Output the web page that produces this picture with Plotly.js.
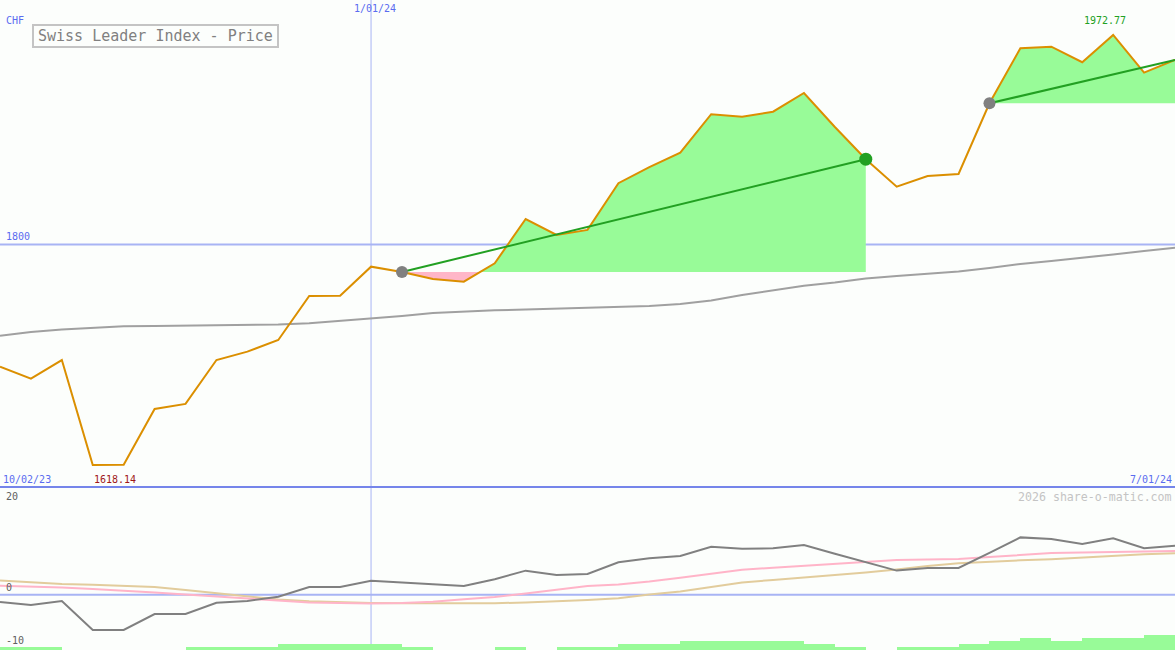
<!DOCTYPE html>
<html><head><meta charset="utf-8">
<script src="https://cdn.plot.ly/plotly-3.0.1.min.js"></script>
<style>html,body{margin:0;padding:0;background:#fcfefc}#chart{width:1175px;height:650px}</style>
</head><body><div id="chart"></div>
<script>
const dates = ['2023-10-09','2023-10-16','2023-10-23','2023-10-30','2023-11-06','2023-11-13','2023-11-20','2023-11-27',
  '2023-12-04','2023-12-11','2023-12-18','2023-12-25','2024-01-01','2024-01-08','2024-01-15','2024-01-22','2024-01-29',
  '2024-02-05','2024-02-12','2024-02-19','2024-02-26','2024-03-04','2024-03-11','2024-03-18','2024-03-25',
  '2024-04-01','2024-04-08','2024-04-15','2024-04-22','2024-04-29','2024-05-06','2024-05-13','2024-05-20','2024-05-27',
  '2024-06-03','2024-06-10','2024-06-17','2024-06-24','2024-07-01'];
const price = [1699.2,1689.3,1704.7,1618.14,1618.3,1664.3,1668.5,1704.7,1711.6,1721.2,1757.5,1757.7,1781.7,1777.3,
  1771.5,1769.3,1784.5,1821.0,1807.8,1812.0,1850.5,1863.7,1875.7,1907.4,1905.4,1909.5,1924.9,1896.9,1870.3,1847.7,
  1856.5,1858.1,1916.4,1961.8,1963.1,1950.3,1972.77,1941.7,1952.2];
const movingAvg = [1724.8,1727.8,1729.9,1731.5,1732.5,1732.8,1733.0,1733.2,1733.4,1734.0,1735.1,1736.9,1738.8,1741.0,
  1743.5,1744.7,1745.7,1746.4,1747.1,1747.9,1748.5,1749.3,1750.9,1753.8,1758.4,1762.5,1766.0,1768.7,1772.0,1774.0,
  1775.7,1777.7,1780.6,1783.9,1786.4,1788.9,1791.8,1794.6,1797.4];
const oscGray = [-1.36,-1.93,-1.18,-6.60,-6.60,-3.61,-3.61,-1.50,-1.18,-0.37,1.44,1.44,2.62,2.24,1.94,1.63,2.88,4.49,
  3.68,3.87,6.06,6.80,7.23,8.97,8.60,8.67,9.29,7.64,6.07,4.50,4.99,4.99,7.81,10.71,10.41,9.48,10.54,8.67,9.16];
const oscPink = [1.68,1.53,1.35,1.07,0.79,0.41,0.04,-0.34,-0.80,-1.18,-1.46,-1.55,-1.64,-1.55,-1.31,-0.86,-0.43,0.22,
  0.97,1.63,1.91,2.47,3.18,3.96,4.67,5.05,5.42,5.74,6.21,6.49,6.58,6.67,7.05,7.42,7.79,7.89,7.98,8.07,8.17];
const oscTan = [2.67,2.28,2.00,1.85,1.66,1.44,0.88,0.32,-0.34,-0.90,-1.23,-1.46,-1.55,-1.61,-1.61,-1.61,-1.59,-1.46,
  -1.27,-0.99,-0.67,0.04,0.60,1.44,2.28,2.75,3.21,3.59,4.15,4.71,5.36,5.87,6.17,6.43,6.62,6.95,7.33,7.55,7.74];
const barLevels = [1,1,0,0,0,0,1,1,1,2,2,2,2,1,0,0,1,0,1,1,2,2,3,3,3,3,2,1,0,1,1,2,3,4,3,4,4,5];
const trend1 = [13, 28];
const trend2 = [32, 38];
const minIdx = 3, maxIdx = 36;
const minLabel = '1618.14', maxLabel = '1972.77';
const titleText = 'Swiss Leader Index - Price';
const startLabel = '10/02/23', endLabel = '7/01/24', midLabel = '1/01/24', midDate = '2024-01-01';

const W = 1175, H = 650;
const px = x => x / W, py = y => 1 - y / H;
const FONT = 'DejaVu Sans Mono, Liberation Mono, monospace';
const BLUE = '#5a6cf0';

function toMs(d){ return new Date(d.replace(' ','T') + (d.length > 10 ? 'Z' : 'T00:00:00Z')).getTime(); }
function fromMs(ms){ return new Date(ms).toISOString().slice(0,19).replace('T',' '); }

function splitFill(s, e){
  const base = price[s];
  const up = {x:[], y:[]}, dn = {x:[], y:[]};
  for (let i = s; i <= e; i++){
    if (i > s){
      const p0 = price[i-1] - base, p1 = price[i] - base;
      if (p0 * p1 < 0){
        const t = p0 / (p0 - p1);
        const xm = fromMs(toMs(dates[i-1]) + t * (toMs(dates[i]) - toMs(dates[i-1])));
        up.x.push(xm); up.y.push(base); dn.x.push(xm); dn.y.push(base);
      }
    }
    up.x.push(dates[i]); up.y.push(Math.max(price[i], base));
    dn.x.push(dates[i]); dn.y.push(Math.min(price[i], base));
  }
  const close = o => ({x: o.x.concat([dates[e], dates[s]]), y: o.y.concat([base, base])});
  return {up: close(up), dn: close(dn)};
}

const traces = [];
[trend1, trend2].forEach(([s, e]) => {
  const f = splitFill(s, e);
  traces.push({x: f.dn.x, y: f.dn.y, mode:'lines', fill:'toself', fillcolor:'#ffb6c8', line:{width:0}, hoverinfo:'skip'});
  traces.push({x: f.up.x, y: f.up.y, mode:'lines', fill:'toself', fillcolor:'#98fb98', line:{width:0}, hoverinfo:'skip'});
});
traces.push({x: dates, y: movingAvg, mode:'lines', line:{color:'#a0a0a0', width:2}});
traces.push({x: dates, y: price, mode:'lines', line:{color:'#db8f00', width:2}});
[trend1, trend2].forEach(([s, e]) => {
  traces.push({x:[dates[s], dates[e]], y:[price[s], price[e]], mode:'lines', line:{color:'#22a022', width:2}});
});
traces.push({x:[dates[trend1[0]], dates[trend2[0]]], y:[price[trend1[0]], price[trend2[0]]], mode:'markers',
  marker:{color:'#808080', size:12}});
traces.push({x:[dates[trend1[1]]], y:[price[trend1[1]]], mode:'markers', marker:{color:'#22a022', size:13}});

// lower panel
traces.push({x: dates.slice(0, barLevels.length), y: barLevels, type:'bar', yaxis:'y3', offset:0,
  width: 7*24*3600*1000, marker:{color:'#98fb98', line:{width:0}}});
traces.push({x: dates, y: oscTan, yaxis:'y2', mode:'lines', line:{color:'#e2cc9c', width:2}});
traces.push({x: dates, y: oscPink, yaxis:'y2', mode:'lines', line:{color:'#ffb4c8', width:2}});
traces.push({x: dates, y: oscGray, yaxis:'y2', mode:'lines', line:{color:'#808080', width:2}});

const ann = (o) => Object.assign({showarrow:false, borderpad:0, font:{family:FONT, size:10, color:BLUE}}, o);
const layout = {
  width: W, height: H, margin:{l:0, r:0, t:0, b:0, pad:0},
  paper_bgcolor:'#fcfefc', plot_bgcolor:'rgba(0,0,0,0)', showlegend:false, bargap:0,
  xaxis:{type:'date', range:[dates[0], dates[dates.length-1]], visible:false, fixedrange:true},
  yaxis:{domain:[py(487), 1], range:[1600.0, 2001.6], visible:false, fixedrange:true},
  yaxis2:{domain:[0, py(488)], range:[-10.34, 19.94], visible:false, fixedrange:true},
  yaxis3:{overlaying:'y2', range:[0, 54], visible:false, fixedrange:true},
  shapes:[
    {type:'line', xref:'paper', x0:0, x1:1, yref:'y', y0:1800, y1:1800, line:{color:'#a8b4f4', width:2}, layer:'below'},
    {type:'line', xref:'paper', x0:0, x1:1, yref:'y2', y0:0, y1:0, line:{color:'#a8b4f4', width:2}, layer:'below'},
    {type:'line', xref:'x', x0:midDate, x1:midDate, yref:'paper', y0:0, y1:1, line:{color:'#a8b4f4', width:1}, layer:'below'},
    {type:'line', xref:'paper', x0:0, x1:1, yref:'paper', y0:py(487), y1:py(487), line:{color:'#7585ea', width:2}},
    {type:'rect', xref:'paper', yref:'paper', x0:px(33), x1:px(278), y0:py(47), y1:py(25), line:{color:'#c4c4c4', width:2}, fillcolor:'#fcfefc'}
  ],
  annotations:[
    ann({text:titleText, xref:'paper', yref:'paper', x:px(37), y:py(36), xanchor:'left', yanchor:'middle', font:{family:FONT, size:15, color:'#808080'}}),
    ann({text:'CHF', xref:'paper', yref:'paper', x:px(5), y:py(21), xanchor:'left', yanchor:'middle'}),
    ann({text:midLabel, xref:'x', yref:'paper', x:midDate, y:py(9), xanchor:'center', yanchor:'middle', xshift:4}),
    ann({text:'1800', xref:'paper', yref:'y', x:px(5), y:1800, xanchor:'left', yanchor:'bottom', yshift:1}),
    ann({text:startLabel, xref:'paper', yref:'paper', x:px(2), y:py(479), xanchor:'left', yanchor:'middle'}),
    ann({text:endLabel, xref:'paper', yref:'paper', x:px(1173), y:py(479), xanchor:'right', yanchor:'middle'}),
    ann({text:minLabel, xref:'x', yref:'y', x:dates[minIdx], y:price[minIdx], xanchor:'left', yanchor:'top', yshift:-8, font:{family:FONT, size:10, color:'#a01818'}}),
    ann({text:maxLabel, xref:'x', yref:'y', x:dates[maxIdx], y:price[maxIdx], xanchor:'center', yanchor:'bottom', xshift:-8, yshift:8, font:{family:FONT, size:10, color:'#22a022'}}),
    ann({text:'20', xref:'paper', yref:'paper', x:px(5), y:py(496), xanchor:'left', yanchor:'middle', font:{family:FONT, size:10, color:'#606060'}}),
    ann({text:'0', xref:'paper', yref:'y2', x:px(5), y:0, xanchor:'left', yanchor:'bottom', yshift:1, font:{family:FONT, size:10, color:'#606060'}}),
    ann({text:'-10', xref:'paper', yref:'y2', x:px(5), y:-10, xanchor:'left', yanchor:'bottom', yshift:1, font:{family:FONT, size:10, color:'#606060'}}),
    ann({text:'2026 share-o-matic.com', xref:'paper', yref:'paper', x:px(1173), y:py(497), xanchor:'right', yanchor:'middle', font:{family:FONT, size:11.6, color:'#c4c4c4'}})
  ]
};
Plotly.newPlot('chart', traces, layout, {staticPlot:true, displayModeBar:false});
</script></body></html>
